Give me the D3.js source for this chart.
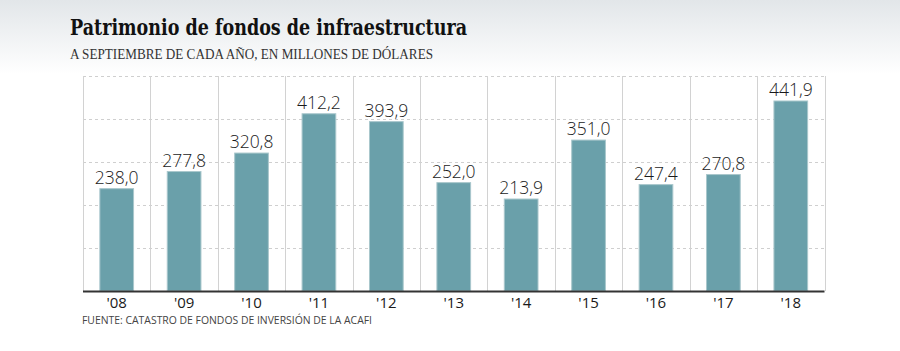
<!DOCTYPE html>
<html>
<head>
<meta charset="utf-8">
<script src="https://cdn.jsdelivr.net/npm/d3@7"></script>
<style>
  body { margin: 0; background: #fff; }
  svg { display: block; }
</style>
</head>
<body>
<div id="chart"></div>
<script>
// data
var years = ["'08", "'09", "'10", "'11", "'12", "'13", "'14", "'15", "'16", "'17", "'18"];
var values = [238.0, 277.8, 320.8, 412.2, 393.9, 252.0, 213.9, 351.0, 247.4, 270.8, 441.9];
var gridTicks = [0, 100, 200, 300, 400, 500];

var width = 900, height = 351;
var margin = { top: 76, right: 76, bottom: 60, left: 83 };
var innerW = 824.5 - margin.left,
    innerH = 291 - margin.top;

var svg = d3.select("#chart")
    .append("svg")
    .attr("width", width)
    .attr("height", height);

// gray fade behind the header
var defs = svg.append("defs");
var grad = defs.append("linearGradient")
    .attr("id", "bg")
    .attr("x1", 0).attr("y1", 0).attr("x2", 0).attr("y2", 1);
grad.append("stop").attr("offset", "0%").attr("stop-color", "#e2e6e9");
grad.append("stop").attr("offset", "100%").attr("stop-color", "#ffffff");
svg.append("rect")
    .attr("width", width)
    .attr("height", 74)
    .attr("fill", "url(#bg)");

var fmt = function (v) { return d3.format(".1f")(v).replace(".", ","); };

var x = d3.scaleBand().domain(years).range([0, innerW]).paddingInner(0).paddingOuter(0);
var y = d3.scaleLinear().domain([0, 500]).range([innerH, 0]);

var g = svg.append("g")
    .attr("transform", "translate(" + margin.left + "," + margin.top + ")");

// dashed horizontal grid
g.selectAll(".hgrid")
    .data(gridTicks.slice(1))
    .join("line")
    .attr("class", "hgrid")
    .attr("x1", 0)
    .attr("x2", innerW)
    .attr("y1", function (d) { return Math.round(y(d)) + 0.5; })
    .attr("y2", function (d) { return Math.round(y(d)) + 0.5; })
    .attr("stroke", "#cfcfcf")
    .attr("stroke-dasharray", "3,3")
    .attr("stroke-width", 1);

// vertical separators between years
var bounds = years.map(function (d) { return x(d); }).concat([innerW]);
g.selectAll(".vgrid")
    .data(bounds)
    .join("line")
    .attr("class", "vgrid")
    .attr("x1", function (d) { return Math.round(d) + 0.5; })
    .attr("x2", function (d) { return Math.round(d) + 0.5; })
    .attr("y1", 0)
    .attr("y2", innerH)
    .attr("stroke", "#d2d2d2")
    .attr("stroke-width", 1);

// bars
var barW = x.bandwidth() * 0.5;
g.selectAll(".bar")
    .data(values)
    .join("rect")
    .attr("class", "bar")
    .attr("x", function (d, i) { return x(years[i]) + (x.bandwidth() - barW) / 2; })
    .attr("y", function (d) { return y(d); })
    .attr("width", barW)
    .attr("height", function (d) { return innerH - y(d); })
    .attr("fill", "#6aa0aa")
    .attr("stroke", "#a9c7cc")
    .attr("stroke-width", 1);

// value labels
g.selectAll(".val")
    .data(values)
    .join("text")
    .attr("class", "val")
    .attr("x", function (d, i) { return x(years[i]) + x.bandwidth() / 2; })
    .attr("y", function (d) { return y(d) - 5; })
    .attr("text-anchor", "middle")
    .style("font-family", "'Open Sans', sans-serif")
    .style("font-size", "17.5px")
    .style("font-weight", 300)
    .style("fill", "#1a1a1a")
    .text(fmt);

// baseline
g.append("line")
    .attr("x1", 0)
    .attr("x2", innerW)
    .attr("y1", innerH + 0.5)
    .attr("y2", innerH + 0.5)
    .attr("stroke", "#333")
    .attr("stroke-width", 2);

// year labels
var xAxis = g.append("g")
    .attr("transform", "translate(0," + innerH + ")")
    .call(d3.axisBottom(x).tickSize(0).tickPadding(6));
xAxis.select(".domain").remove();
xAxis.selectAll("text")
    .style("font-family", "'Open Sans', sans-serif")
    .style("font-size", "15px")
    .style("fill", "#1a1a1a");

// header
svg.append("text")
    .attr("x", 70)
    .attr("y", 35)
    .attr("textLength", 397)
    .attr("lengthAdjust", "spacingAndGlyphs")
    .style("font-family", "'DejaVu Serif', serif")
    .style("font-weight", "bold")
    .style("font-size", "22px")
    .style("fill", "#111")
    .text("Patrimonio de fondos de infraestructura");

svg.append("text")
    .attr("x", 70)
    .attr("y", 59)
    .attr("textLength", 363)
    .attr("lengthAdjust", "spacingAndGlyphs")
    .style("font-family", "'Liberation Serif', serif")
    .style("font-size", "15px")
    .style("fill", "#333")
    .text("A SEPTIEMBRE DE CADA AÑO, EN MILLONES DE DÓLARES");

// source
svg.append("text")
    .attr("x", 82)
    .attr("y", 324)
    .attr("textLength", 290)
    .attr("lengthAdjust", "spacingAndGlyphs")
    .style("font-family", "'Open Sans', sans-serif")
    .style("font-size", "11.5px")
    .style("fill", "#444")
    .text("FUENTE: CATASTRO DE FONDOS DE INVERSIÓN DE LA ACAFI");
</script>
</body>
</html>
